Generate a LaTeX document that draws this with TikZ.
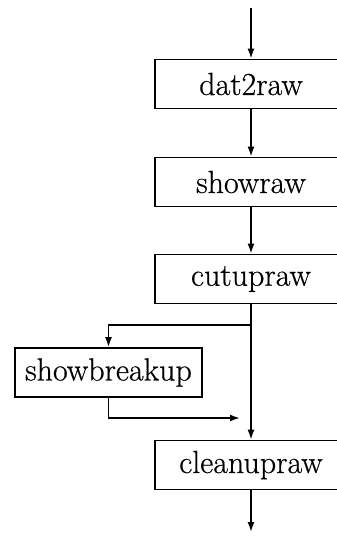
\documentclass[tikz,border=0pt]{standalone}
\usepackage{fontspec}
\setmainfont{Latin Modern Roman}
\usetikzlibrary{arrows.meta}
\begin{document}
\begin{tikzpicture}[x=1pt,y=-1pt,
  line width=1.7pt,
  proc/.style={draw, rectangle, inner sep=0pt, minimum width=192pt, minimum height=49pt,
    font=\fontsize{32}{35}\selectfont\addfontfeatures{FakeBold=0.5}},
  flow/.style={-{Latex[length=10pt,width=7pt]}}]
  \useasboundingbox (0,0) rectangle (337,536);
  \clip (0,0) rectangle (337,536);

  % main chain of processing steps
  \node[proc] (d2r) at (251,84)  {dat2raw};
  \node[proc] (shr) at (251,182) {showraw};
  \node[proc] (cut) at (251,279) {cutupraw};
  \node[proc, minimum width=187pt] (sbu) at (108.5,372.5) {showbreakup};
  \node[proc] (cln) at (251,465) {cleanupraw};

  \coordinate (in)   at (251,8);
  \coordinate (out)  at (251,532);
  \coordinate (fork) at (251,325);
  \coordinate (fl)   at (sbu.north |- fork);
  \coordinate (rb)   at (sbu.south |- 0,418);
  \coordinate (rend) at (240,418);

  \draw[flow] (in) -- (d2r);
  \draw[flow] (d2r) -- (shr);
  \draw[flow] (shr) -- (cut);
  \draw[flow] (cut) -- (cln);
  \draw[flow] (cln) -- (out);

  % side branch through showbreakup
  \draw[flow] (fork) -- (fl) -- (sbu.north);
  \draw[flow] (sbu.south) -- (rb) -- (rend);
\end{tikzpicture}
\end{document}
